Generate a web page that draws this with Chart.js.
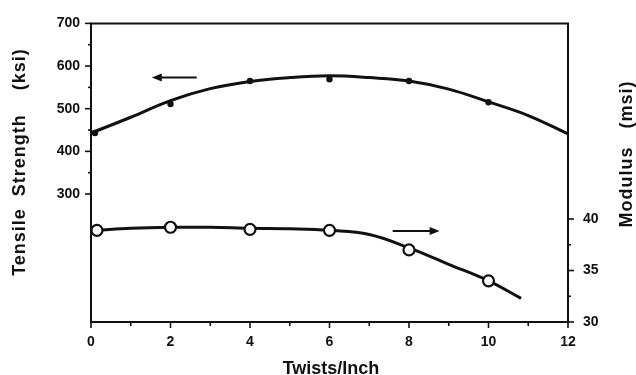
<!DOCTYPE html>
<html><head><meta charset="utf-8">
<script src="https://cdn.jsdelivr.net/npm/chart.js@4.4.0/dist/chart.umd.min.js"></script>
<style>html,body{margin:0;padding:0;background:#fff;overflow:hidden}#wrap{width:636px;height:375px;position:relative}</style>
</head><body><div id="wrap"><canvas id="c"></canvas></div>
<script>
// Fitted curve, tensile strength (ksi) vs twists/inch
const twistsFit = [0,1,2,3,4,5,6,7,8,9,10,11,12];
const strengthFit = [443,480,519,547,564,573,577,573,565,546,516,484,441];
// Measured tensile strength points
const twistsStrengthPts = [0.1,2,4,6,8,10];
const strengthPts = [443,511,565,569,565,515];
// Fitted curve, modulus (msi)
const twistsModFit = [0.15,1,2,3,4,5,6,7,8,9,10,10.82];
const modulusFit = [38.9,39.1,39.2,39.2,39.1,39.05,38.9,38.5,37.2,35.6,34.0,32.3];
// Measured modulus points
const twistsModPts = [0.15,2,4,6,8,10];
const modulusPts = [38.9,39.2,39.0,38.9,37.0,34.0];
// Tick labels
const xTickLabels = ['0','2','4','6','8','10','12'];
const leftTickLabels = ['300','400','500','600','700'];
const rightTickLabels = ['30','35','40'];
// Direction arrows (data units)
const arrowStrength = {from:2.66, to:1.53, value:573, axis:'y'};
const arrowModulus = {from:7.59, to:8.77, value:38.85, axis:'y2'};

const INK = '#111';
const tickFont = {family:'"Liberation Sans", Arial, sans-serif', size:14, weight:'bold'};
const pts = (xs, ys) => xs.map((x,i)=>({x, y:ys[i]}));

function minorsOf(vals){ const m=[]; for(let i=0;i<vals.length-1;i++) m.push((vals[i]+vals[i+1])/2); return m; }

const decor = {
  id:'decor',
  afterDraw(chart){
    const {ctx, chartArea:a, scales} = chart;
    const X = scales.x, Y = scales.y, Y2 = scales.y2;
    ctx.save();
    ctx.strokeStyle = INK; ctx.fillStyle = INK; ctx.lineWidth = 2; ctx.lineCap='butt';
    // frame
    ctx.beginPath();
    ctx.rect(a.left, a.top, a.right-a.left, a.bottom-a.top);
    ctx.stroke();
    ctx.lineWidth = 1.6;
    // left ticks
    const lv = leftTickLabels.map(Number);
    lv.forEach(v=>{const p=Y.getPixelForValue(v); ctx.beginPath(); ctx.moveTo(a.left-6,p); ctx.lineTo(a.left,p); ctx.stroke();});
    minorsOf(lv).forEach(v=>{const p=Y.getPixelForValue(v); ctx.beginPath(); ctx.moveTo(a.left-3,p); ctx.lineTo(a.left,p); ctx.stroke();});
    // right ticks
    const rv = rightTickLabels.map(Number);
    rv.forEach(v=>{const p=Y2.getPixelForValue(v); ctx.beginPath(); ctx.moveTo(a.right,p); ctx.lineTo(a.right+6,p); ctx.stroke();});
    minorsOf(rv).forEach(v=>{const p=Y2.getPixelForValue(v); ctx.beginPath(); ctx.moveTo(a.right,p); ctx.lineTo(a.right+3,p); ctx.stroke();});
    // bottom ticks
    const xv = xTickLabels.map(Number);
    xv.forEach(v=>{const p=X.getPixelForValue(v); ctx.beginPath(); ctx.moveTo(p,a.bottom); ctx.lineTo(p,a.bottom+6); ctx.stroke();});
    minorsOf(xv).forEach(v=>{const p=X.getPixelForValue(v); ctx.beginPath(); ctx.moveTo(p,a.bottom-1); ctx.lineTo(p,a.bottom+4); ctx.stroke();});
    // arrows
    ctx.lineWidth = 2;
    [arrowStrength, arrowModulus].forEach(ar=>{
      const x0 = X.getPixelForValue(ar.from), x1 = X.getPixelForValue(ar.to);
      const y = scales[ar.axis].getPixelForValue(ar.value);
      const dir = Math.sign(x1-x0);
      ctx.beginPath(); ctx.moveTo(x0,y); ctx.lineTo(x1-dir*6,y); ctx.stroke();
      ctx.beginPath(); ctx.moveTo(x1,y); ctx.lineTo(x1-dir*10,y-4); ctx.lineTo(x1-dir*10,y+4); ctx.closePath(); ctx.fill();
    });
    // axis titles
    ctx.font = 'bold 18px "Liberation Sans", Arial, sans-serif';
    try{ ctx.letterSpacing = '1px'; }catch(e){}
    ctx.textAlign='center'; ctx.textBaseline='middle';
    ctx.save(); ctx.translate(20,162); ctx.rotate(-Math.PI/2); ctx.fillText('Tensile  Strength    (ksi)',0,0); ctx.restore();
    ctx.save(); ctx.translate(627,154); ctx.rotate(-Math.PI/2); ctx.fillText('Modulus   (msi)',0,0); ctx.restore();
    try{ ctx.letterSpacing = '0px'; }catch(e){}
    ctx.textBaseline='alphabetic';
    ctx.fillText('Twists/Inch', 331, 374);
    ctx.restore();
  }
};

new Chart(document.getElementById('c'), {
  type:'scatter',
  data:{datasets:[
    {label:'Strength pts', data:pts(twistsStrengthPts,strengthPts), yAxisID:'y', showLine:false,
     pointRadius:3.2, pointBackgroundColor:INK, pointBorderColor:INK, pointBorderWidth:0, order:0},
    {label:'Modulus pts', data:pts(twistsModPts,modulusPts), yAxisID:'y2', showLine:false,
     pointRadius:5.5, pointBackgroundColor:'#fff', pointBorderColor:INK, pointBorderWidth:2.2, order:0},
    {label:'Strength fit', data:pts(twistsFit,strengthFit), yAxisID:'y', showLine:true,
     borderColor:INK, borderWidth:3, pointRadius:0, tension:0.4, order:1},
    {label:'Modulus fit', data:pts(twistsModFit,modulusFit), yAxisID:'y2', showLine:true,
     borderColor:INK, borderWidth:3, pointRadius:0, tension:0.4, order:1}
  ]},
  options:{
    responsive:true, maintainAspectRatio:false, animation:false, devicePixelRatio:1,
    layout:{padding:{top:19,left:0,right:0,bottom:0}},
    plugins:{legend:{display:false}, tooltip:{enabled:false}},
    scales:{
      x:{type:'linear', position:'bottom', min:0, max:12,
         afterBuildTicks:s=>{s.ticks = xTickLabels.map(t=>({value:Number(t)}));},
         afterFit:s=>{s.height=53;},
         grid:{display:false, drawTicks:false}, border:{display:false},
         ticks:{padding:12, color:INK, font:tickFont, maxRotation:0, autoSkip:false, callback:v=>String(v)}},
      y:{type:'linear', position:'left', min:0, max:700,
         afterBuildTicks:s=>{s.ticks = leftTickLabels.map(t=>({value:Number(t)}));},
         afterFit:s=>{s.width=91;},
         grid:{display:false, drawTicks:false}, border:{display:false},
         ticks:{padding:11, color:INK, font:tickFont, callback:v=>String(v)}},
      y2:{type:'linear', position:'right', min:30, max:59,
         afterBuildTicks:s=>{s.ticks = rightTickLabels.map(t=>({value:Number(t)}));},
         afterFit:s=>{s.width=68;},
         grid:{display:false, drawTicks:false}, border:{display:false},
         ticks:{padding:15, color:INK, font:tickFont, callback:v=>String(v)}}
    }
  },
  plugins:[decor]
});
</script></body></html>
